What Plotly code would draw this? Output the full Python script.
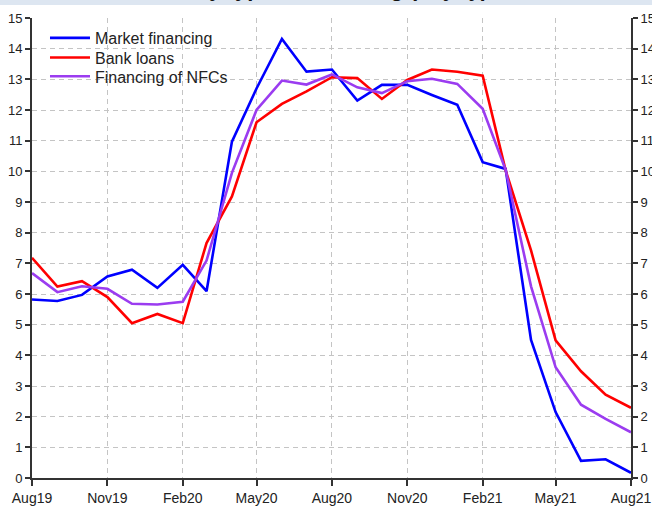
import plotly.graph_objects as go

months = ["2019-08-01", "2019-09-01", "2019-10-01", "2019-11-01", "2019-12-01",
          "2020-01-01", "2020-02-01", "2020-03-01", "2020-04-01", "2020-05-01",
          "2020-06-01", "2020-07-01", "2020-08-01", "2020-09-01", "2020-10-01",
          "2020-11-01", "2020-12-01", "2021-01-01", "2021-02-01", "2021-03-01",
          "2021-04-01", "2021-05-01", "2021-06-01", "2021-07-01", "2021-08-01"]

market_financing = [5.82, 5.77, 5.97, 6.57, 6.79, 6.20, 6.95, 6.09, 10.97, 12.70,
                    14.32, 13.25, 13.32, 12.31, 12.82, 12.82, 12.49, 12.17, 10.30, 10.08,
                    4.50, 2.15, 0.56, 0.61, 0.17]
bank_loans = [7.18, 6.24, 6.42, 5.90, 5.05, 5.35, 5.05, 7.66, 9.18, 11.60,
              12.20, 12.61, 13.07, 13.04, 12.36, 12.98, 13.32, 13.25, 13.12, 10.03,
              7.42, 4.49, 3.48, 2.72, 2.29]
financing_nfcs = [6.68, 6.06, 6.25, 6.17, 5.68, 5.66, 5.75, 7.09, 9.95, 12.00,
                  12.96, 12.83, 13.16, 12.74, 12.55, 12.94, 13.02, 12.85, 12.04, 10.05,
                  6.25, 3.61, 2.39, 1.93, 1.49]

series_names = ["Market financing", "Bank loans", "Financing of NFCs"]
series_colors = ["#0000ff", "#ff0000", "#9b3cf0"]
legend_ids = ["legend", "legend2", "legend3"]
legend_rows_y = [0.9565, 0.914, 0.873]
title_text = "NFC debt by type of financing (% yoy)"

fig = go.Figure()
for name, vals, col, lg in zip(series_names,
                               [market_financing, bank_loans, financing_nfcs],
                               series_colors, legend_ids):
    fig.add_trace(go.Scatter(x=months, y=vals, mode="lines", name=name, legend=lg,
                             line=dict(color=col, width=2.6)))

# invisible trace to carry the right-hand axis
fig.add_trace(go.Scatter(x=months, y=financing_nfcs, yaxis="y2", mode="lines",
                         line=dict(width=0, color="rgba(0,0,0,0)"),
                         showlegend=False, hoverinfo="skip"))

axis_font = dict(family="Liberation Sans, Arial, sans-serif", size=13, color="#222222")
grid = dict(showgrid=True, gridcolor="#c4c4c4", gridwidth=1, griddash="5px,4px")

legend_style = dict(x=0.0217, xanchor="left", yanchor="middle",
                    bgcolor="rgba(0,0,0,0)",
                    font=dict(family="Liberation Sans, Arial, sans-serif",
                              size=16, color="#222222"),
                    itemwidth=40)

fig.update_layout(
    width=652, height=510,
    margin=dict(l=32, r=21, t=18, b=32, autoexpand=False),
    paper_bgcolor="white", plot_bgcolor="white",
    font=dict(family="Liberation Sans, Arial, sans-serif", color="#222222"),
    showlegend=True,
    legend=dict(legend_style, y=legend_rows_y[0]),
    legend2=dict(legend_style, y=legend_rows_y[1]),
    legend3=dict(legend_style, y=legend_rows_y[2]),
    xaxis=dict(type="date", range=["2019-08-01", "2021-08-01"], dtick="M3",
               tick0="2019-08-01", tickformat="%b%y", ticks="outside", ticklen=6,
               tickcolor="#333333", tickwidth=1.5,
               showline=True, linecolor="#333333", linewidth=2,
               tickfont=dict(axis_font, size=14), zeroline=False, **grid),
    yaxis=dict(range=[0, 15], dtick=1, ticks="outside", ticklen=5,
               tickcolor="#333333", tickwidth=1.5,
               showline=True, linecolor="#333333", linewidth=2,
               tickfont=axis_font, zeroline=False, **grid),
    yaxis2=dict(range=[0, 15], dtick=1, overlaying="y", side="right",
                ticks="outside", ticklen=5, tickcolor="#333333", tickwidth=1.5,
                showline=True, linecolor="#333333", linewidth=2,
                tickfont=axis_font, showgrid=False, zeroline=False),
    shapes=[dict(type="rect", xref="paper", yref="paper", x0=-0.1, x1=1.1,
                 y0=1 + (18 - 5) / 460, y1=1 + 20 / 460, fillcolor="#dde6f1",
                 line=dict(width=0), layer="below")],
    annotations=[dict(text="<b>" + title_text + "</b>", xref="paper", yref="paper",
                      x=0.43, y=1 + (18 + 11.5) / 460, xanchor="center", yanchor="middle",
                      showarrow=False, font=dict(size=22, color="#111111"))],
)

fig.write_html("out.html",
               config={"displayModeBar": False},
               post_script="document.body.style.margin='0';document.body.style.overflow='hidden';")
